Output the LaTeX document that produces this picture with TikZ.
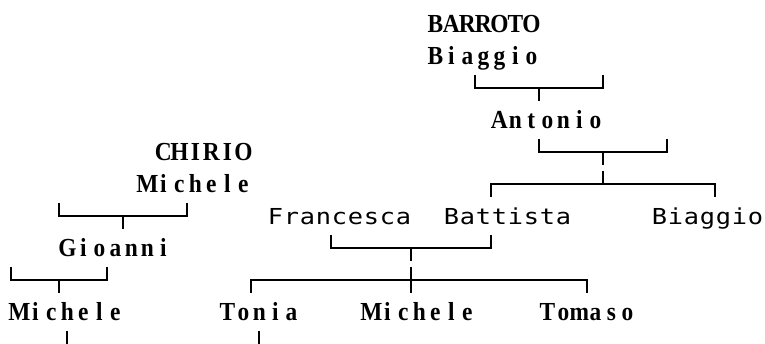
\documentclass[tikz,border=0pt]{standalone}
\usepackage{fontspec}
\usepackage{tikz}
\newfontfamily\namefont[FakeStretch=0.9]{Liberation Serif}
\newfontfamily\codefont[FakeStretch=1.15]{DejaVu Sans Mono}
% one fixed cell per letter, like the text grid of the original
\newlength\cellw
\setlength\cellw{8pt}
\makeatletter
\def\gridtext#1{\gridtext@#1\relax}
\def\gridtext@#1{\ifx#1\relax\else\makebox[\cellw]{#1}\expandafter\gridtext@\fi}
\makeatother
\tikzset{
  person/.style ={inner sep=0pt,anchor=base west,
                  font=\namefont\bfseries\fontsize{13pt}{13pt}\selectfont},
  mononame/.style={inner sep=0pt,anchor=base west,
                  font=\codefont\fontsize{11pt}{11pt}\selectfont},
  tie/.style    ={line width=1pt,draw=black}
}
\begin{document}
\begin{tikzpicture}[x=8pt,y=-16pt]
  \useasboundingbox (-0.6875,-0.75) rectangle (47.125,9.96875);
  % names (column, row)
  \node[person] (barroto) at (26,0.25) {\gridtext{BARROTO}};
  \node[person] (biaggio) at (26,1.25) {\gridtext{Biaggio}};
  \node[person] (antonio) at (30,3.25) {\gridtext{Antonio}};
  \node[person] (chirio) at (9,4.25) {\gridtext{CHIRIO}};
  \node[person] (micheleA) at (8,5.25) {\gridtext{Michele}};
  \node[mononame] (francesca) at (16,6.25) {\gridtext{Francesca}};
  \node[mononame] (battista) at (27,6.25) {\gridtext{Battista}};
  \node[mononame] (biaggioB) at (40,6.25) {\gridtext{Biaggio}};
  \node[person] (gioanni) at (3,7.25) {\gridtext{Gioanni}};
  \node[person] (micheleB) at (0,9.25) {\gridtext{Michele}};
  \node[person] (tonia) at (13,9.25) {\gridtext{Tonia}};
  \node[person] (micheleC) at (22,9.25) {\gridtext{Michele}};
  \node[person] (tomaso) at (33,9.25) {\gridtext{Tomaso}};
  % junctions
  \coordinate (biaggioJ) at (33,2);
  \coordinate (antonioJ) at (37,4);
  \coordinate (antonioK) at (37,5);
  \coordinate (chirioJ) at (7,6);
  \coordinate (battistaJ) at (25,7);
  \coordinate (battistaK) at (25,8);
  \coordinate (gioanniJ) at (3,8);
  % brackets under the parents
  \draw[tie] (biaggioJ) ++(-4,-.4) |- ++(8,.4) -- ++(0,-.4);
  \draw[tie] (biaggioJ) -- ++(0,.4);
  \draw[tie] (antonioJ) ++(-4,-.4) |- ++(8,.4) -- ++(0,-.4);
  \draw[tie] (antonioJ) -- ++(0,.4);
  \draw[tie] (chirioJ) ++(-4,-.4) |- ++(8,.4) -- ++(0,-.4);
  \draw[tie] (chirioJ) -- ++(0,.4);
  \draw[tie] (battistaJ) ++(-5,-.4) |- ++(10,.4) -- ++(0,-.4);
  \draw[tie] (battistaJ) -- ++(0,.4);
  \draw[tie] (gioanniJ) ++(-3,-.4) |- ++(6,.4) -- ++(0,-.4);
  \draw[tie] (gioanniJ) -- ++(0,.4);
  % rakes over the children
  \draw[tie] (antonioK) ++(-7,.4) |- ++(14,-.4) -- ++(0,.4);
  \draw[tie] (antonioK) -- ++(0,-.4);
  \draw[tie] (battistaK) ++(-10,.4) |- ++(21,-.4) -- ++(0,.4);
  \draw[tie] (battistaK) ++(0,-.4) -- ++(0,.8);
  % lines going on below
  \draw[tie] (micheleB.base west) ++(3.5,.35) -- ++(0,.5);
  \draw[tie] (tonia.base west) ++(2.5,.35) -- ++(0,.5);
\end{tikzpicture}
\end{document}
